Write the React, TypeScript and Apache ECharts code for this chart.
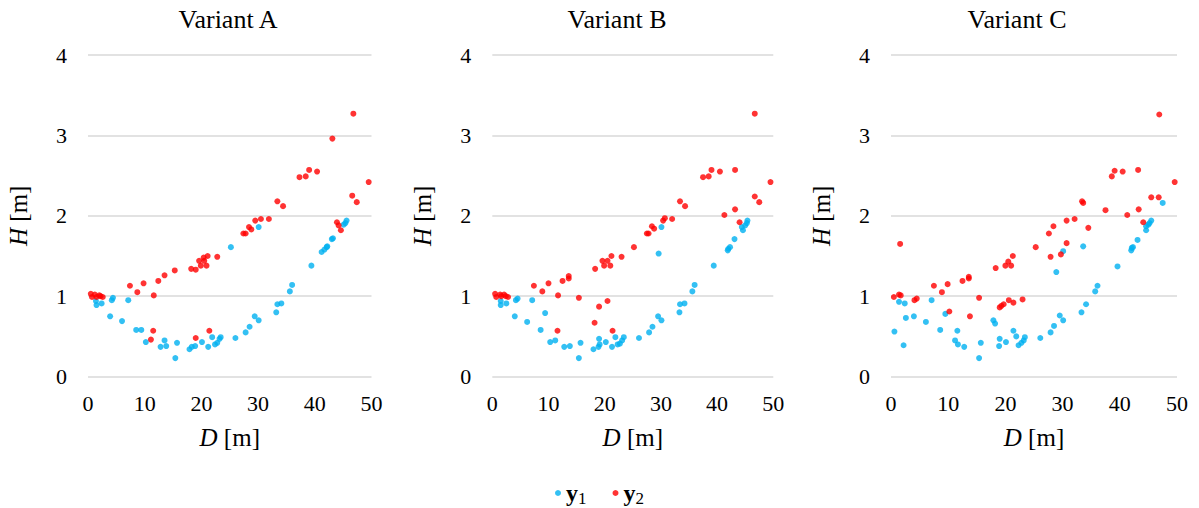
import React, { useEffect, useRef } from "react";
import * as echarts from "echarts";

const panelTitles = ["Variant A", "Variant B", "Variant C"];
const xTicks = [0, 10, 20, 30, 40, 50];
const yTicks = [0, 1, 2, 3, 4];

const aY1: number[][] = [
  [1.4, 0.94], [1.5, 0.89], [2.4, 0.91], [4.2, 0.95], [4.4, 0.98], [3.9, 0.75], [6.0, 0.69], [7.1, 0.95],
  [8.5, 0.58], [9.4, 0.58], [10.2, 0.43], [12.8, 0.37], [13.5, 0.45], [13.8, 0.38], [15.4, 0.23], [15.7, 0.42],
  [17.9, 0.34], [18.3, 0.37], [18.9, 0.38], [20.1, 0.43], [21.2, 0.37], [21.9, 0.49], [22.4, 0.4], [22.8, 0.42],
  [23.2, 0.47], [23.4, 0.49], [26.0, 0.48], [27.8, 0.55], [28.5, 0.62], [29.4, 0.75], [30.1, 0.7], [33.2, 0.8],
  [33.4, 0.9], [34.1, 0.91], [35.6, 1.06], [36.0, 1.14], [39.4, 1.38], [41.2, 1.55], [41.7, 1.58], [42.1, 1.61],
  [42.2, 1.62], [43.0, 1.71], [43.2, 1.72], [45.1, 1.89], [45.4, 1.91], [45.6, 1.94], [25.2, 1.61], [30.1, 1.86],
];
const aY2: number[][] = [
  [0.5, 1.03], [0.7, 0.99], [1.2, 1.02], [1.5, 0.99], [2.0, 1.01], [2.2, 1.0], [2.6, 0.99], [7.4, 1.13],
  [8.7, 1.05], [9.8, 1.16], [11.6, 1.01], [12.4, 1.19], [13.5, 1.26], [15.3, 1.32], [18.2, 1.34], [19.0, 1.33],
  [19.6, 1.44], [19.9, 1.38], [20.4, 1.48], [20.5, 1.44], [20.9, 1.38], [21.1, 1.5], [22.8, 1.49], [27.4, 1.78],
  [27.8, 1.78], [28.4, 1.86], [28.8, 1.83], [29.5, 1.94], [30.5, 1.96], [31.9, 1.96], [33.4, 2.18], [34.4, 2.12],
  [43.9, 1.92], [44.2, 1.88], [44.6, 1.82], [46.6, 2.25], [47.4, 2.17], [11.5, 0.57], [11.1, 0.46], [19.0, 0.48],
  [21.4, 0.57], [46.8, 3.27], [43.1, 2.96], [37.3, 2.48], [38.4, 2.49], [39.0, 2.57], [40.4, 2.55], [49.5, 2.42],
];

const bY1: number[][] = [
  [1.5, 0.94], [1.5, 0.89], [2.5, 0.91], [4.2, 0.95], [4.5, 0.97], [4.0, 0.75], [6.2, 0.68], [7.1, 0.95],
  [9.4, 0.79], [8.6, 0.58], [10.3, 0.43], [11.2, 0.45], [12.8, 0.37], [13.8, 0.38], [15.4, 0.23], [15.7, 0.42],
  [18.0, 0.34], [18.9, 0.37], [19.1, 0.4], [19.0, 0.47], [20.2, 0.43], [21.3, 0.37], [21.9, 0.49], [22.3, 0.4],
  [22.7, 0.41], [23.1, 0.45], [23.4, 0.49], [26.1, 0.48], [27.9, 0.55], [28.5, 0.62], [29.5, 0.75], [30.1, 0.7],
  [33.3, 0.8], [33.4, 0.9], [34.2, 0.91], [35.6, 1.06], [36.0, 1.14], [29.6, 1.53], [30.1, 1.86], [39.4, 1.38],
  [41.9, 1.57], [42.0, 1.59], [42.3, 1.61], [43.1, 1.71], [44.4, 1.86], [44.6, 1.82], [45.0, 1.88], [45.3, 1.91],
  [45.4, 1.94],
];
const bY2: number[][] = [
  [0.5, 1.03], [0.7, 0.99], [1.4, 1.02], [1.6, 1.0], [2.1, 1.02], [2.4, 1.0], [2.8, 0.99], [7.4, 1.13],
  [8.9, 1.06], [10.0, 1.16], [11.7, 1.01], [12.5, 1.19], [13.6, 1.22], [13.6, 1.25], [15.4, 0.98], [18.3, 1.34],
  [19.0, 0.87], [19.6, 1.44], [19.9, 1.38], [20.5, 1.44], [20.5, 0.94], [21.0, 1.38], [21.2, 1.5], [23.0, 1.49],
  [25.2, 1.61], [18.2, 0.67], [11.6, 0.57], [21.4, 0.57], [27.5, 1.78], [27.8, 1.78], [28.4, 1.87], [28.8, 1.84],
  [30.4, 1.94], [30.7, 1.97], [32.0, 1.96], [33.4, 2.18], [34.3, 2.12], [41.3, 2.01], [43.2, 2.08], [44.0, 1.92],
  [46.7, 2.24], [47.5, 2.17], [46.7, 3.27], [37.5, 2.48], [38.5, 2.49], [39.0, 2.57], [40.5, 2.55], [43.2, 2.57],
  [49.5, 2.42],
];

const cY1: number[][] = [
  [0.6, 0.56], [1.4, 0.93], [2.2, 0.39], [2.4, 0.91], [2.6, 0.73], [4.0, 0.75], [6.1, 0.68], [7.1, 0.95],
  [8.6, 0.58], [9.5, 0.78], [11.2, 0.45], [11.6, 0.57], [11.7, 0.4], [12.8, 0.37], [15.4, 0.23], [15.7, 0.42],
  [17.9, 0.7], [18.2, 0.66], [18.9, 0.38], [19.0, 0.47], [20.1, 0.43], [21.4, 0.57], [21.9, 0.5], [22.3, 0.39],
  [22.8, 0.42], [23.2, 0.45], [23.4, 0.49], [26.1, 0.48], [27.9, 0.55], [28.5, 0.63], [28.9, 1.3], [29.5, 0.76],
  [30.1, 0.7], [30.1, 1.56], [33.3, 0.8], [33.6, 1.62], [34.1, 0.9], [35.7, 1.06], [36.1, 1.13], [39.6, 1.37],
  [42.0, 1.57], [42.1, 1.6], [42.3, 1.61], [43.1, 1.7], [44.6, 1.87], [44.6, 1.82], [45.0, 1.89], [45.2, 1.91],
  [45.5, 1.94], [47.5, 2.16],
];
const cY2: number[][] = [
  [0.5, 0.99], [1.4, 1.02], [1.7, 1.01], [1.6, 1.65], [4.1, 0.95], [4.5, 0.97], [7.5, 1.13], [8.9, 1.05],
  [9.9, 1.15], [10.2, 0.81], [12.5, 1.19], [13.6, 1.24], [13.6, 1.22], [13.8, 0.75], [15.4, 0.98], [18.3, 1.35],
  [19.0, 0.86], [19.3, 0.88], [19.7, 0.9], [20.0, 1.38], [20.5, 1.43], [20.6, 0.95], [21.0, 1.38], [21.3, 1.5],
  [21.4, 0.92], [23.0, 0.96], [25.3, 1.61], [27.6, 1.78], [27.9, 1.49], [28.4, 1.87], [29.7, 1.52], [30.7, 1.94],
  [30.7, 1.66], [32.1, 1.96], [33.4, 2.18], [33.6, 2.16], [34.5, 1.85], [37.5, 2.07], [41.3, 2.01], [43.3, 2.08],
  [44.1, 1.92], [45.5, 2.23], [46.8, 2.23], [46.9, 3.26], [38.6, 2.49], [39.1, 2.56], [40.5, 2.55], [43.2, 2.57],
  [49.6, 2.42],
];

const y1Sets = [aY1, bY1, cY1];
const y2Sets = [aY2, bY2, cY2];

const FONT = "'Liberation Serif', 'Times New Roman', serif";
const BLUE = "#00b0f0";
const RED = "#ff0000";

export default function App() {
  const ref = useRef<HTMLDivElement>(null);
  useEffect(() => {
    document.body.style.margin = "0";
    if (!ref.current) return;
    const chart = echarts.init(ref.current, null, { renderer: "svg" });
    const grids = [
      { left: 88, width: 283.5 },
      { left: 492.3, width: 281 },
      { left: 891, width: 286 },
    ].map((g) => ({ left: g.left, width: g.width, top: 55, height: 321.6 }));
    const titleX = [228, 617, 1017];

    const nameStyle = {
      fontFamily: FONT,
      fontSize: 25,
      color: "#000",
      rich: {
        i: { fontFamily: FONT, fontSize: 25, fontStyle: "italic", color: "#000" },
        n: { fontFamily: FONT, fontSize: 25, color: "#000" },
      },
    };

    const xAxes = grids.map((_, i) => ({
      type: "value",
      gridIndex: i,
      min: 0,
      max: 50,
      interval: 10,
      axisLine: { show: false },
      axisTick: { show: false },
      splitLine: { show: false },
      axisLabel: { fontFamily: FONT, fontSize: 22, color: "#000", margin: 16 },
      name: "{i|D}{n| [m]}",
      nameLocation: "middle",
      nameGap: 48,
      nameTextStyle: nameStyle,
    }));
    const yAxes = grids.map((_, i) => ({
      type: "value",
      gridIndex: i,
      min: 0,
      max: 4,
      interval: 1,
      axisLine: { show: false },
      axisTick: { show: false },
      splitLine: { show: true, lineStyle: { color: "#d9d9d9", width: 1.5 } },
      axisLabel: { fontFamily: FONT, fontSize: 22, color: "#000", margin: 21 },
      name: "{i|H}{n| [m]}",
      nameLocation: "middle",
      nameGap: 57,
      nameRotate: 90,
      nameTextStyle: nameStyle,
    }));

    const series: any[] = [];
    for (let i = 0; i < 3; i++) {
      series.push({
        type: "scatter",
        name: "y1",
        xAxisIndex: i,
        yAxisIndex: i,
        data: y1Sets[i],
        symbol: "circle",
        symbolSize: 6,
        itemStyle: { color: BLUE },
      });
      series.push({
        type: "scatter",
        name: "y2",
        xAxisIndex: i,
        yAxisIndex: i,
        data: y2Sets[i],
        symbol: "circle",
        symbolSize: 6,
        itemStyle: { color: RED },
      });
    }

    chart.setOption({
      animation: false,
      backgroundColor: "#fff",
      textStyle: { fontFamily: FONT },
      grid: grids,
      xAxis: xAxes,
      yAxis: yAxes,
      series,
      legend: {
        data: ["y1", "y2"],
        left: "center",
        top: 476,
        icon: "circle",
        itemWidth: 6,
        itemHeight: 6,
        itemGap: 26,
        formatter: (name: string) => `{b|y}{s|${name.slice(1)}}`,
        textStyle: {
          fontFamily: FONT,
          color: "#000",
          rich: {
            b: { fontFamily: FONT, fontSize: 24, fontWeight: "bold", color: "#000" },
            s: { fontFamily: FONT, fontSize: 17, color: "#000", padding: [10, 0, 0, 0] },
          },
        },
      },
      graphic: grids.map((g, i) => ({
        type: "text",
        x: titleX[i],
        y: 19,
        style: {
          text: panelTitles[i],
          fontFamily: FONT,
          fontSize: 26,
          fill: "#000",
          textAlign: "center",
          textVerticalAlign: "middle",
        },
      })),
    });
    return () => chart.dispose();
  }, []);
  return <div ref={ref} style={{ width: 1199, height: 508 }} />;
}
